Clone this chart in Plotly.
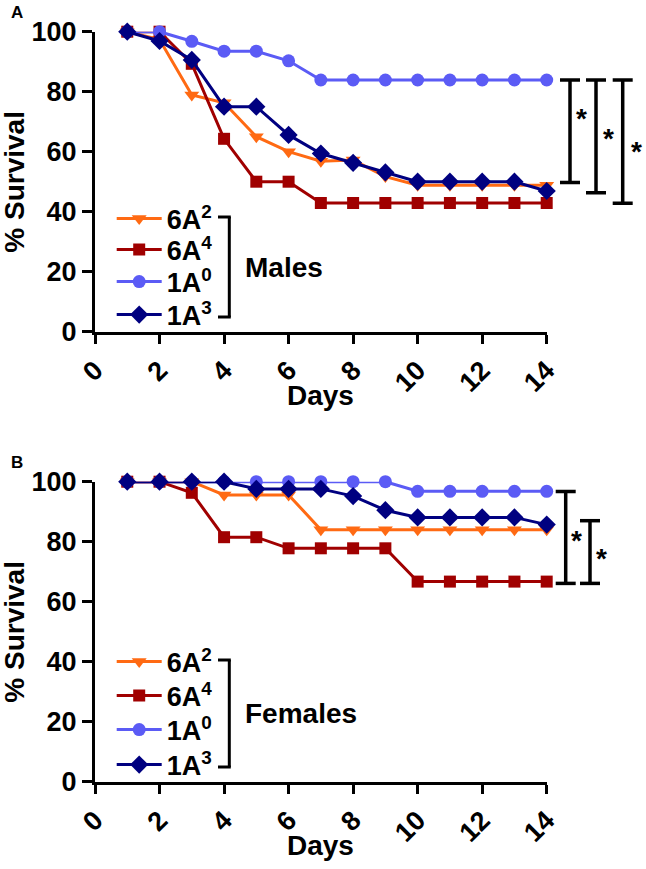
import plotly.graph_objects as go

W, H = 646, 869

days = list(range(1, 15))
series_names = ["6A<sup>2</sup>", "6A<sup>4</sup>", "1A<sup>0</sup>", "1A<sup>3</sup>"]

# Panel A (Males)
males_6A2 = [100, 97.4, 78.9, 76.3, 65.0, 60.0, 56.8, 57.2, 51.7, 48.8, 48.8, 48.8, 48.8, 48.8]
males_6A4 = [100, 100, 89.3, 64.3, 50.0, 50.0, 42.9, 42.9, 42.9, 42.9, 42.9, 42.9, 42.9, 42.9]
males_1A0 = [100, 100, 96.8, 93.5, 93.5, 90.3, 83.9, 83.9, 83.9, 83.9, 83.9, 83.9, 83.9, 83.9]
males_1A3 = [100, 96.9, 90.6, 75.0, 75.0, 65.6, 59.4, 56.3, 53.1, 50.0, 50.0, 50.0, 50.0, 46.9]

# Panel B (Females)
fem_6A2 = [100, 100, 100, 95.6, 95.6, 95.6, 84.0, 84.0, 84.0, 84.0, 84.0, 84.0, 84.0, 84.0]
fem_6A4 = [100, 100, 96.3, 81.5, 81.5, 77.8, 77.8, 77.8, 77.8, 66.7, 66.7, 66.7, 66.7, 66.7]
fem_1A0 = [100, 100, 100, 100, 100, 100, 100, 100, 100, 96.8, 96.8, 96.8, 96.8, 96.8]
fem_1A3 = [100, 100, 100, 100, 97.6, 97.6, 97.6, 95.2, 90.5, 88.1, 88.1, 88.1, 88.1, 85.7]

# significance brackets (top, bottom, star level) in % survival
brackets_A = [(83.9, 49.7, 71.7), (83.9, 46.3, 65.0), (83.9, 42.8, 60.6)]
brackets_B = [(96.7, 66.1, 81.1), (87.0, 66.1, 75.2)]

x_ticks = list(range(0, 15, 2))
y_ticks = list(range(0, 101, 20))

colors = ["#FF6A13", "#A00000", "#5B5BF5", "#000080"]
symbols = ["triangle-down", "square", "circle", "diamond"]
msizes = [13, 12, 13, 14]

FONT = "Arial, Liberation Sans, sans-serif"


def px_x(p):
    return p / W


def px_y(p):
    return 1 - p / H


fig = go.Figure()

panels = [
    dict(x="x", y="y", data=[males_6A2, males_6A4, males_1A0, males_1A3],
         rows=[219, 250, 282, 315], label="Males", brackets=brackets_A,
         bx=[570, 596, 622.7], sx=[581, 608, 636.7],
         top=31.7, bottom=331.7, letter="A"),
    dict(x="x2", y="y2", data=[fem_6A2, fem_6A4, fem_1A0, fem_1A3],
         rows=[662, 696, 730, 765], label="Females", brackets=brackets_B,
         bx=[565.7, 590], sx=[576.7, 601.7],
         top=481.7, bottom=781.7, letter="B"),
]

x_left, x_right = 95, 546.7
layout_extra = {}
annotations = []
shapes = []
legend_idx = 0

for pi, p in enumerate(panels):
    for si, vals in enumerate(p["data"]):
        legend_idx += 1
        lname = "legend" if legend_idx == 1 else f"legend{legend_idx}"
        fig.add_trace(go.Scatter(
            x=days, y=vals, name=series_names[si], mode="lines+markers",
            xaxis=p["x"], yaxis=p["y"], legend=lname, cliponaxis=False,
            line=dict(color=colors[si], width=3),
            marker=dict(symbol=symbols[si], size=msizes[si], color=colors[si]),
        ))
        layout_extra[lname] = dict(
            x=px_x(111.7), y=px_y(p["rows"][si]), xanchor="left", yanchor="middle",
            xref="paper", yref="paper", bgcolor="rgba(0,0,0,0)", borderwidth=0,
            itemwidth=45, font=dict(family=FONT, size=27, color="black", weight="bold"),
            tracegroupgap=0,
        )

    # legend group bracket
    r0, r1 = p["rows"][0] - 2, p["rows"][-1] + 2
    bx = 229.3
    shapes.append(dict(type="line", xref="paper", yref="paper", x0=px_x(bx), x1=px_x(bx),
                       y0=px_y(r0), y1=px_y(r1), line=dict(color="black", width=3)))
    for r in (r0, r1):
        shapes.append(dict(type="line", xref="paper", yref="paper", x0=px_x(218), x1=px_x(bx + 1.5),
                           y0=px_y(r), y1=px_y(r), line=dict(color="black", width=3)))
    annotations.append(dict(text=p["label"], x=px_x(243), y=px_y((r0 + r1) / 2), xref="paper", yref="paper",
                            xanchor="left", yanchor="middle", showarrow=False,
                            font=dict(family=FONT, size=28, color="black", weight="bold")))

    # significance brackets
    yref = p["y"]
    for bi, (top, bot, star) in enumerate(p["brackets"]):
        cx = p["bx"][bi]
        shapes.append(dict(type="line", xref="paper", yref=yref, x0=px_x(cx), x1=px_x(cx),
                           y0=top, y1=bot, line=dict(color="black", width=3.5)))
        for yy in (top, bot):
            shapes.append(dict(type="line", xref="paper", yref=yref, x0=px_x(cx - 10), x1=px_x(cx + 10),
                               y0=yy, y1=yy, line=dict(color="black", width=3.5)))
        annotations.append(dict(text="*", x=px_x(p["sx"][bi]), y=star,
                                xref="paper", yref=yref, xanchor="center", yanchor="middle",
                                yshift=-2, showarrow=False,
                                font=dict(family=FONT, size=28, color="black", weight="bold")))

    # axis titles
    annotations.append(dict(text="% Survival", x=px_x(15), y=px_y((p["top"] + p["bottom"]) / 2),
                            xref="paper", yref="paper", textangle=-90, showarrow=False,
                            xanchor="center", yanchor="middle",
                            font=dict(family=FONT, size=28, color="black", weight="bold")))
    annotations.append(dict(text="Days", x=px_x(320), y=px_y(p["bottom"] + 64),
                            xref="paper", yref="paper", showarrow=False,
                            xanchor="center", yanchor="middle",
                            font=dict(family=FONT, size=28, color="black", weight="bold")))
    annotations.append(dict(text=p["letter"], x=px_x(16.7), y=px_y(p["top"] - 19.5),
                            xref="paper", yref="paper", showarrow=False,
                            xanchor="center", yanchor="middle",
                            font=dict(family=FONT, size=17, color="black", weight="bold")))

axis_common = dict(showline=True, linewidth=3, linecolor="black", ticks="outside",
                   tickwidth=3, tickcolor="black", showgrid=False, zeroline=False,
                   automargin=False,
                   tickfont=dict(family=FONT, size=27, color="black", weight="bold"))

xa = dict(axis_common, range=[0, 14], tickvals=x_ticks, ticklen=9, tickangle=-45,
          domain=[px_x(x_left), px_x(x_right)])
fig.update_layout(
    template="none",
    xaxis=dict(xa, anchor="y"),
    yaxis=dict(axis_common, range=[0, 100], tickvals=y_ticks, ticklen=10, anchor="x",
               domain=[px_y(331.7), px_y(31.7)]),
    xaxis2=dict(xa, anchor="y2"),
    yaxis2=dict(axis_common, range=[0, 100], tickvals=y_ticks, ticklen=10, anchor="x2",
                domain=[px_y(781.7), px_y(481.7)]),
)

fig.update_layout(
    width=W, height=H, margin=dict(l=0, r=0, t=0, b=0, pad=0, autoexpand=False),
    paper_bgcolor="white", plot_bgcolor="white", showlegend=True,
    annotations=annotations, shapes=shapes, **layout_extra,
)

fig.write_html("out.html", config={"displayModeBar": False},
               post_script="document.body.style.margin='0';document.body.style.overflow='hidden';")
